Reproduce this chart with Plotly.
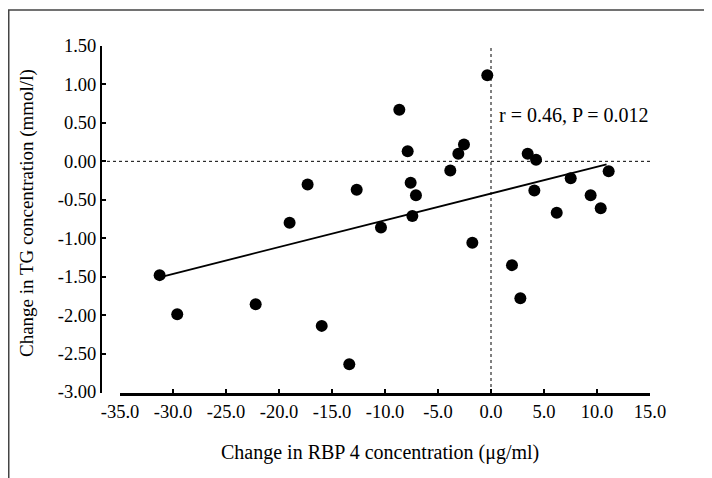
import numpy as np
import plotly.graph_objects as go

# Data
rbp4_change = [-31.26, -29.6, -22.2, -19.0, -17.3, -15.97, -13.37, -12.67, -10.38,
               -8.65, -7.86, -7.58, -7.42, -7.08, -3.84, -3.08, -2.55, -1.76, -0.35,
               1.98, 2.77, 3.46, 4.09, 4.25, 6.2, 7.52, 9.4, 10.35, 11.1]
tg_change = [-1.48, -1.99, -1.86, -0.80, -0.30, -2.14, -2.64, -0.37, -0.86,
             0.67, 0.13, -0.28, -0.71, -0.44, -0.12, 0.10, 0.22, -1.06, 1.12,
             -1.35, -1.78, 0.10, -0.38, 0.02, -0.67, -0.22, -0.44, -0.61, -0.13]
fit_x = [-30.9, 10.9]           # x-extent of the regression line
fit_line_y = [-1.495, -0.04]    # regression line values as drawn in the reference

x_ticks = [-35, -30, -25, -20, -15, -10, -5, 0, 5, 10, 15]
x_ticklabels = ["-35.0", "-30.0", "-25.0", "-20.0", "-15.0", "-10.0", "-5.0", "0.0", "5.0", "10.0", "15.0"]
y_ticks = [1.5, 1.0, 0.5, 0.0, -0.5, -1.0, -1.5, -2.0, -2.5, -3.0]
y_ticklabels = ["1.50", "1.00", "0.50", "0.00", "-0.50", "-1.00", "-1.50", "-2.00", "-2.50", "-3.00"]

FONT = "Liberation Serif, Times New Roman, serif"

# page body has an 8px margin; figure sized so that it fits the 712x478 window
OFF = 8
W, H = 712 - OFF, 478 - OFF
ML, MT = 101 - OFF, 46 - OFF
pw, ph = 549, 347
MR = W - ML - pw
MB = H - MT - ph


def px(sx):  # screen x -> paper x
    return (sx - OFF - ML) / pw


def py(sy):  # screen y -> paper y
    return (MT + ph - (sy - OFF)) / ph


fig = go.Figure()
fig.add_trace(go.Scatter(x=fit_x, y=fit_line_y, mode="lines",
                         line=dict(color="black", width=1.8), showlegend=False))
fig.add_trace(go.Scatter(x=rbp4_change, y=tg_change, mode="markers",
                         marker=dict(color="black", size=12), showlegend=False))

fig.update_layout(
    width=W, height=H,
    margin=dict(l=ML, r=MR, t=MT, b=MB, autoexpand=False),
    paper_bgcolor="white", plot_bgcolor="white",
    font=dict(family=FONT, size=18, color="black"),
    xaxis=dict(domain=[19 / pw, 1], range=[-35, 15], tickvals=x_ticks, ticktext=x_ticklabels,
               showline=True, linecolor="black", linewidth=2.5, ticks="inside",
               ticklen=4, tickwidth=1.8, tickcolor="black", showgrid=False, zeroline=False,
               tickfont=dict(family=FONT, size=18.5)),
    yaxis=dict(anchor="free", position=0, range=[-3.013, 1.5], tickvals=y_ticks, ticktext=y_ticklabels,
               showline=True, linecolor="black", linewidth=2, ticks="inside",
               ticklen=4, tickwidth=1.8, tickcolor="black", showgrid=False, zeroline=False,
               tickfont=dict(family=FONT, size=18.5)),
)

# dotted reference lines
fig.add_shape(type="line", xref="paper", yref="y", x0=0, x1=1, y0=0, y1=0,
              line=dict(color="black", width=1, dash="dot"))
fig.add_shape(type="line", xref="x", yref="paper", x0=0, x1=0, y0=0, y1=0.995,
              line=dict(color="black", width=1, dash="dot"))

# outer frame (top and left edges visible)
fig.add_shape(type="path", xref="paper", yref="paper",
              path=f"M {px(730)},{py(10)} L {px(8.75)},{py(10)} L {px(8.75)},{py(500)}",
              line=dict(color="#444444", width=1.5))

fig.add_annotation(text="r = 0.46, P = 0.012", xref="paper", yref="paper",
                   x=px(651), y=py(115), xanchor="right", yanchor="middle",
                   showarrow=False, font=dict(family=FONT, size=20))
fig.add_annotation(text="Change in RBP 4 concentration (μg/ml)", xref="paper", yref="paper",
                   x=px(380), y=py(452), xanchor="center", yanchor="middle",
                   showarrow=False, font=dict(family=FONT, size=20))
fig.add_annotation(text="Change in TG concentration (mmol/l)", xref="paper", yref="paper",
                   x=px(27), y=py(213), xanchor="center", yanchor="middle",
                   textangle=-90, showarrow=False, font=dict(family=FONT, size=19))

fig.write_html("out.html")
